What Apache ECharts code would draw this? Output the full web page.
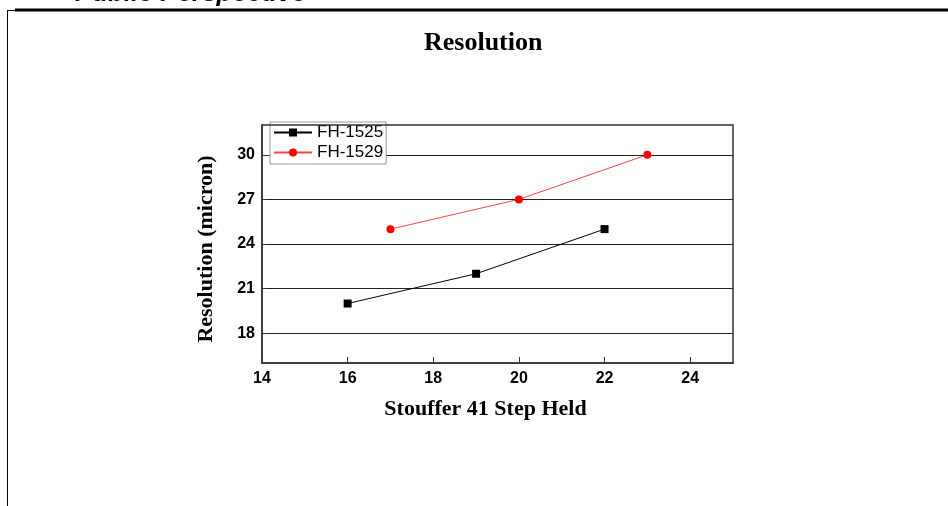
<!DOCTYPE html>
<html>
<head>
<meta charset="utf-8">
<script src="https://cdn.jsdelivr.net/npm/echarts@6/dist/echarts.min.js"></script>
<style>
  html, body { margin: 0; padding: 0; background: #fff; }
  #chart { width: 948px; height: 506px; }
</style>
</head>
<body>
<div id="chart"></div>
<script>
const chart = echarts.init(document.getElementById("chart"));

// data
const fh1525X = [16, 19, 22];
const fh1525Y = [20, 22, 25];
const fh1529X = [17, 20, 23];
const fh1529Y = [25, 27, 30];
const yTicks = [18, 21, 24, 27, 30];

const pairs = (xs, ys) => xs.map((x, i) => [x, ys[i]]);

const serif = "'Liberation Serif', 'DejaVu Serif', serif";
const sans = "'Liberation Sans', Arial, sans-serif";

var option = {
  backgroundColor: "#fff",
  animation: false,
  title: {
    text: "Resolution",
    left: 419,
    top: 25,
    textStyle: { fontFamily: serif, fontWeight: "bold", fontSize: 26, color: "#000" },
  },
  legend: {
    left: 270,
    top: 122,
    orient: "vertical",
    itemGap: 3,
    itemWidth: 38,
    itemHeight: 10,
    padding: [2, 3, 3, 3],
    backgroundColor: "#fff",
    borderColor: "#999",
    borderWidth: 1,
    textStyle: { fontFamily: sans, fontSize: 17, color: "#000" },
    data: ["FH-1525", "FH-1529"],
  },
  grid: { left: 262, right: 215, top: 125, bottom: 143 },
  xAxis: {
    type: "value",
    min: 14,
    max: 25,
    interval: 2,
    name: "Stouffer 41 Step Held",
    nameLocation: "middle",
    nameGap: 35,
    nameTextStyle: { fontFamily: serif, fontWeight: "bold", fontSize: 22, color: "#000", padding: [0, 24, 0, 0] },
    axisLine: { show: true, lineStyle: { color: "#333", width: 1.5 } },
    axisTick: { show: true, inside: true, length: 6, lineStyle: { color: "#333" } },
    axisLabel: { fontFamily: sans, fontWeight: "bold", fontSize: 16, color: "#000", margin: 8, showMaxLabel: false },
    splitLine: { show: false },
  },
  yAxis: {
    type: "value",
    min: 16,
    max: 32,
    name: "Resolution (micron)",
    nameLocation: "middle",
    nameGap: 45,
    nameTextStyle: { fontFamily: serif, fontWeight: "bold", fontSize: 22, color: "#000", padding: [0, 10, 0, 0] },
    axisLine: { show: true, lineStyle: { color: "#333", width: 1.5 } },
    axisTick: { show: true, inside: true, length: 6, customValues: yTicks, lineStyle: { color: "#333" } },
    axisLabel: { fontFamily: sans, fontWeight: "bold", fontSize: 16, color: "#000", margin: 7, customValues: yTicks },
    splitLine: { show: true, customValues: yTicks, lineStyle: { color: "#222", width: 1 } },
  },
  series: [
    {
      name: "FH-1525",
      type: "line",
      data: pairs(fh1525X, fh1525Y),
      symbol: "rect",
      symbolSize: 8,
      itemStyle: { color: "#000" },
      lineStyle: { color: "#000", width: 1 },
    },
    {
      name: "FH-1529",
      type: "line",
      data: pairs(fh1529X, fh1529Y),
      symbol: "circle",
      symbolSize: 8,
      itemStyle: { color: "#ff0000" },
      lineStyle: { color: "#ff4040", width: 1 },
    },
  ],
  graphic: [
    // plot frame (top and right)
    { type: "rect", shape: { x: 262, y: 125, width: 471, height: 238 }, style: { fill: null, stroke: "#333", lineWidth: 1.5 }, z: 5 },
    // page frame bits
    { type: "line", shape: { x1: 15, y1: 10, x2: 948, y2: 10 }, style: { stroke: "#000", lineWidth: 3 } },
    { type: "line", shape: { x1: 7, y1: 10.5, x2: 15, y2: 10.5 }, style: { stroke: "#000", lineWidth: 1 } },
    { type: "line", shape: { x1: 7.5, y1: 10, x2: 7.5, y2: 506 }, style: { stroke: "#000", lineWidth: 1 } },
    // cut-off heading at the very top
    { type: "text", left: 75, top: -19, style: { text: "Public Perspective", font: "italic bold 26px " + sans, fill: "#000" } },
  ],
};

chart.setOption(option);
</script>
</body>
</html>
